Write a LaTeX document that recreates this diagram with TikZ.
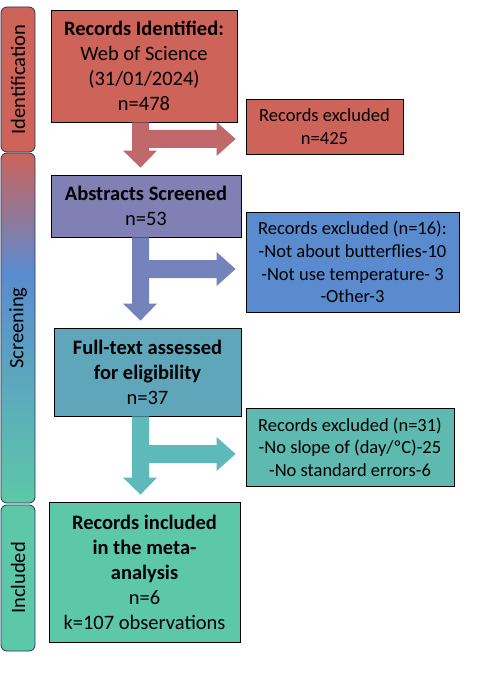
\documentclass[tikz,border=0pt]{standalone}
\usepackage{fontspec}
\setmainfont{Carlito}
\usetikzlibrary{calc,shadows}
\definecolor{cRed}{RGB}{205,99,89}
\definecolor{cPur}{RGB}{128,128,180}
\definecolor{cBlu}{RGB}{91,139,207}
\definecolor{cTeal}{RGB}{95,166,187}
\definecolor{cTeal2}{RGB}{94,186,176}
\definecolor{cGrn}{RGB}{92,200,168}
\definecolor{aRed}{RGB}{192,104,106}
\definecolor{aPur}{RGB}{116,131,188}
\definecolor{aTeal}{RGB}{94,186,186}
\definecolor{cLine}{RGB}{36,56,90}
\pgfdeclareverticalshading{screenshade}{100bp}{color(0bp)=(cGrn); color(25bp)=(cGrn); color(58bp)=(cBlu); color(75bp)=(cRed); color(100bp)=(cRed)}
\newcommand\flowarrow[5]{%
  \fill[#5] let \p1=(#1.south), \p2=(#2.north), \p3=(#3.west), \p4=(0,#4) in
  (132pt,\y1) -- (149pt,\y1) -- (149pt,{\y4+9pt}) -- ({\x3-29pt},{\y4+9pt})
  -- ({\x3-29pt},{\y4+17pt}) -- ({\x3-10pt},\y4) -- ({\x3-29pt},{\y4-17pt})
  -- ({\x3-29pt},{\y4-9pt}) -- (149pt,{\y4-9pt}) -- (149pt,{\y2+24pt})
  -- (157pt,{\y2+24pt}) -- (140.5pt,{\y2+7pt}) -- (123pt,{\y2+24pt})
  -- (132pt,{\y2+24pt}) -- cycle;}
\tikzset{
  mainbox/.style={draw=black, line width=0.8pt, inner sep=0pt, align=center,
    font=\fontsize{20.5pt}{25pt}\selectfont,
    drop shadow={shadow xshift=1pt, shadow yshift=-1pt, opacity=0.35}},
  exbox/.style={mainbox, font=\fontsize{18.5pt}{22.7pt}\selectfont},
  barshape/.style={draw=cLine, line width=0.8pt, rounded corners=6pt, inner sep=0pt,
    minimum width=34pt},
  barlabel/.style={rotate=90, inner sep=0pt, font=\fontsize{20.5pt}{25pt}\selectfont}
}
\begin{document}
\begin{tikzpicture}[x=1pt, y=-1pt]
\useasboundingbox (0,0) rectangle (493,700);
% phase bars
\node[barshape, fill=cRed, minimum height=145pt] (idbar) at (18,79.5) {};
\node[barlabel] (idlab) at (idbar.center) {Identification};
\path[draw=cLine, line width=0.8pt, shading=screenshade, rounded corners=6pt]
  (1,153) rectangle (35,503);
\coordinate (scrc) at (18,328);
\node[barlabel] (scrlab) at (scrc) {Screening};
\node[barshape, fill=cGrn, minimum height=146pt] (inbar) at (18,578) {};
\node[barlabel] (inlab) at (inbar.center) {Included};
% boxes
\node[mainbox, fill=cRed, minimum width=186pt, minimum height=112pt] (b1) at (144,66)
  {\textbf{Records Identified:}\\Web of Science\\(31/01/2024)\\n=478};
\node[exbox, fill=cRed, minimum width=157pt, minimum height=55pt] (x1) at (324.5,126.5)
  {Records excluded\\n=425};
\node[mainbox, fill=cPur, minimum width=190pt, minimum height=62pt] (b2) at (146,206)
  {\textbf{Abstracts Screened}\\n=53};
\node[exbox, fill=cBlu, minimum width=213pt, minimum height=100pt] (x2) at (352.5,262)
  {Records excluded (n=16):\\-Not about butterflies-10\\-Not use temperature- 3\\-Other-3};
\node[mainbox, fill=cTeal, minimum width=187pt, minimum height=88pt] (b3) at (147.5,372)
  {\textbf{Full-text assessed}\\\textbf{for eligibility}\\n=37};
\node[exbox, fill=cTeal2, minimum width=208pt, minimum height=78pt] (x3) at (350,447)
  {Records excluded (n=31)\\-No slope of (day/ºC)-25\\-No standard errors-6};
\node[mainbox, fill=cGrn, minimum width=191pt, minimum height=140pt] (b4) at (144.5,572)
  {\textbf{Records included}\\\textbf{in the meta-}\\\textbf{analysis}\\n=6\\k=107 observations};
% arrows
\flowarrow{b1}{b2}{x1}{139}{aRed}
\flowarrow{b2}{b3}{x2}{269}{aPur}
\flowarrow{b3}{b4}{x3}{454}{aTeal}
\end{tikzpicture}
\end{document}
